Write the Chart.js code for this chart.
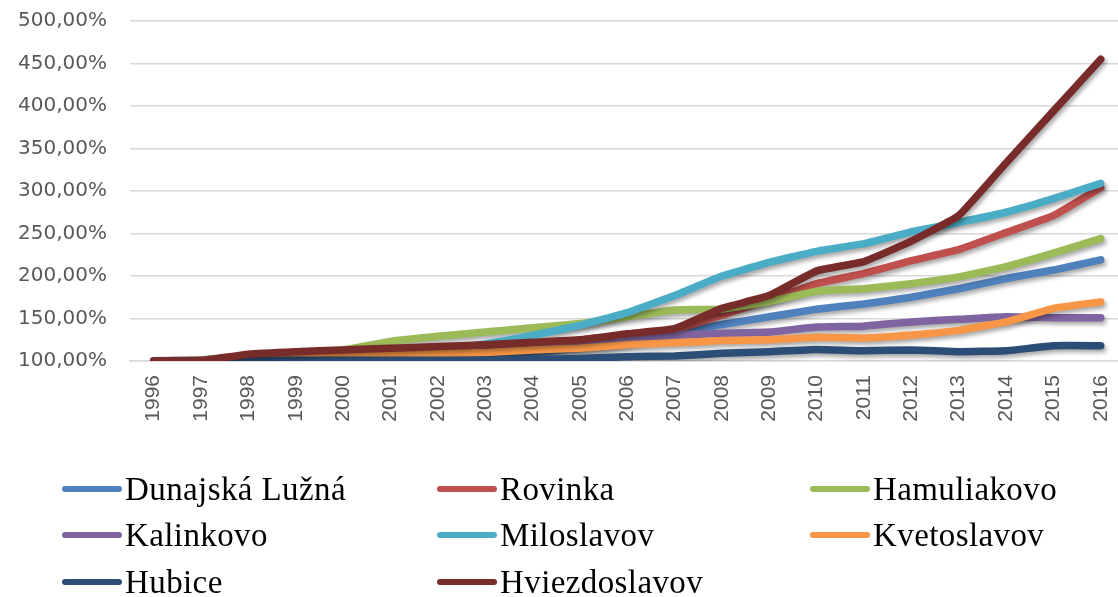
<!DOCTYPE html>
<html>
<head>
<meta charset="utf-8">
<script src="https://cdn.jsdelivr.net/npm/chart.js@4/dist/chart.umd.min.js"></script>
<style>
	html, body {
		margin: 0;
		padding: 0;
		background: #ffffff;
		overflow: hidden;
		width: 1118px;
		height: 597px;
	}
	#chartBox {
		position: absolute;
		left: 0;
		top: -14px;
		width: 1140px;
		height: 454px;
	}
	#legend {
		position: absolute;
		left: 0;
		top: 0;
		width: 1118px;
		height: 597px;
		pointer-events: none;
	}
	.legendItem {
		position: absolute;
		display: flex;
		align-items: center;
		height: 44px;
		font-family: "Liberation Serif", "Times New Roman", serif;
		font-size: 33px;
		letter-spacing: 0.4px;
		color: #000000;
		white-space: nowrap;
	}
	.legendLine {
		width: 60px;
		height: 6px;
		border-radius: 3px;
		margin-right: 3px;
	}
</style>
</head>
<body>
<div id="chartBox"><canvas id="chart"></canvas></div>
<div id="legend"></div>
<script>
const years = ["1996", "1997", "1998", "1999", "2000", "2001", "2002", "2003", "2004", "2005", "2006",
	"2007", "2008", "2009", "2010", "2011", "2012", "2013", "2014", "2015", "2016"];

const seriesNames = ["Dunajská Lužná", "Rovinka", "Hamuliakovo", "Kalinkovo", "Miloslavov", "Kvetoslavov", "Hubice", "Hviezdoslavov"];
const seriesColors = ["#4F81BD", "#C0504D", "#9BBB59", "#8064A2", "#4BACC6", "#F79646", "#2C4D75", "#772C2A"];

// values in percent of 1996
const dunajskaLuzna = [100, 100.5, 101, 102, 103, 104, 105, 107, 110, 115, 122, 133, 143, 152, 161, 167, 175, 185, 197, 207, 219];
const rovinka = [100, 101, 104, 106, 108, 110, 112, 114, 117, 121, 128, 137, 154, 172, 191, 203, 218, 231, 251, 271, 304];
const hamuliakovo = [100, 101, 106, 109, 113, 123, 129, 134, 139, 144, 152, 160, 161, 170, 182, 185, 191, 199, 211, 227, 244];
const kalinkovo = [100, 100.5, 101, 102, 104, 106, 108, 111, 115, 122, 127, 130.5, 132.5, 134, 140, 141, 146, 149, 152, 151, 151];
const miloslavov = [100, 100.5, 102, 104, 106, 109, 113, 120, 130, 142, 157, 177, 200, 216, 229, 238, 252, 263, 275, 291, 309];
const kvetoslavov = [100, 100.5, 102, 104, 106, 108, 109, 110, 113, 115, 119, 121.5, 124, 125, 128, 127, 130.5, 136, 146, 162, 169.5];
const hubice = [100, 100, 100.5, 101, 101, 101, 101, 101, 102, 103, 105, 106, 109, 111, 113.5, 112, 113, 111, 112, 118, 118];
const hviezdoslavov = [100, 100.5, 108, 111, 113, 115, 117, 119, 122, 125, 132, 138, 162, 177, 206, 217, 241, 271, 333, 394, 455];

const seriesValues = [dunajskaLuzna, rovinka, hamuliakovo, kalinkovo, miloslavov, kvetoslavov, hubice, hviezdoslavov];

const yMin = 100;
const yMax = 500;
const yStep = 50;

function formatPercent(value) {
	return value.toFixed(2).replace(".", ",") + "%";
}

const lineShadow = {
	id: "lineShadow",
	beforeDatasetDraw(chart) {
		const ctx = chart.ctx;
		ctx.save();
		ctx.shadowColor = "rgba(0, 0, 0, 0.35)";
		ctx.shadowBlur = 4;
		ctx.shadowOffsetX = 2;
		ctx.shadowOffsetY = 3;
	},
	afterDatasetDraw(chart) {
		chart.ctx.restore();
	}
};

function drawChart() {
	const datasets = seriesNames.map((name, i) => {
		return {
			label: name,
			data: seriesValues[i],
			borderColor: seriesColors[i],
			backgroundColor: seriesColors[i],
			borderWidth: 7.5,
			borderCapStyle: "round",
			borderJoinStyle: "round",
			pointRadius: 0,
			tension: 0.1,
			fill: false,
			// last series is painted on top
			order: seriesNames.length - i
		};
	});
	const context = document.getElementById("chart").getContext("2d");
	const options = {
		type: "line",
		data: {
			labels: years,
			datasets: datasets
		},
		options: {
			responsive: true,
			maintainAspectRatio: false,
			animation: false,
			layout: {
				padding: {
					top: 0,
					right: 3,
					left: 0,
					bottom: 0
				}
			},
			plugins: {
				legend: {
					display: false
				},
				tooltip: {
					enabled: false
				}
			},
			scales: {
				x: {
					offset: true,
					grid: {
						display: false,
						drawTicks: false
					},
					border: {
						display: true,
						color: "#d9d9d9",
						width: 1.5
					},
					ticks: {
						minRotation: 90,
						maxRotation: 90,
						autoSkip: false,
						padding: 14,
						color: "#595959",
						font: {
							family: "Liberation Sans",
							size: 21
						}
					},
					afterFit: scale => {
						scale.height = 79;
					}
				},
				y: {
					min: yMin,
					max: yMax,
					grid: {
						color: "#d9d9d9",
						lineWidth: 1.5,
						drawTicks: false
					},
					border: {
						display: false
					},
					ticks: {
						stepSize: yStep,
						padding: 23,
						color: "#595959",
						font: {
							family: "DejaVu Sans",
							size: 20
						},
						callback: value => formatPercent(value)
					},
					afterFit: scale => {
						scale.width = 130;
					}
				}
			}
		},
		plugins: [lineShadow]
	};
	return new Chart(context, options);
}

function drawLegend() {
	const legend = document.getElementById("legend");
	const columns = [62, 437, 810];
	const rows = [489, 535, 582];
	seriesNames.forEach((name, i) => {
		const item = document.createElement("div");
		item.className = "legendItem";
		item.style.left = columns[i % 3] + "px";
		item.style.top = (rows[Math.floor(i / 3)] - 22) + "px";
		const line = document.createElement("div");
		line.className = "legendLine";
		line.style.background = seriesColors[i];
		const text = document.createElement("span");
		text.textContent = name;
		item.appendChild(line);
		item.appendChild(text);
		legend.appendChild(item);
	});
}

drawChart();
drawLegend();
</script>
</body>
</html>
